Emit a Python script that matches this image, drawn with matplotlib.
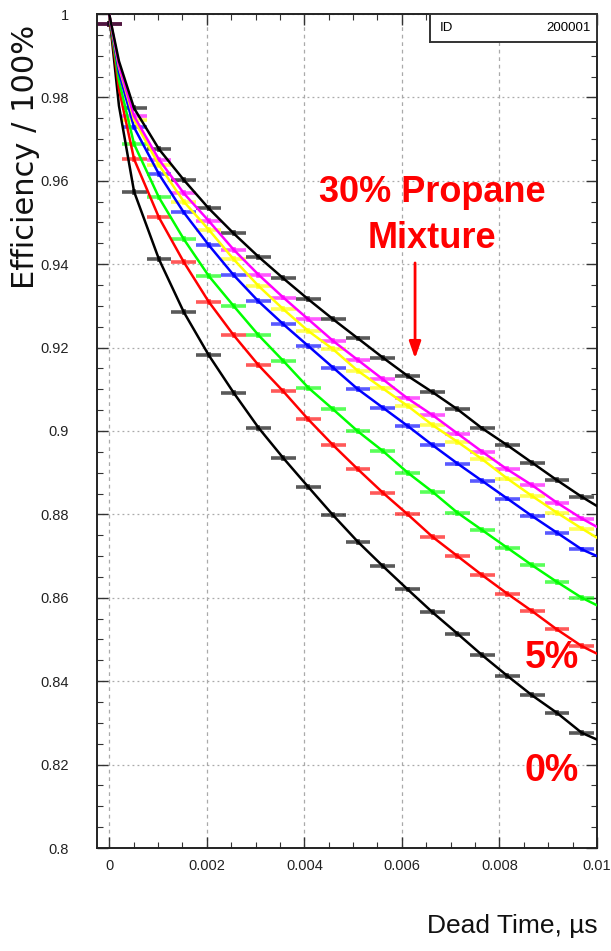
import numpy as np
import matplotlib.pyplot as plt
from matplotlib.ticker import MultipleLocator, FuncFormatter

# bins of dead time (us), one marker per bin
bin_width = 0.00051
dead_time = np.arange(20) * bin_width

# efficiency per bin for each propane fraction, low to high
eff_0 = [0.9976, 0.9574, 0.9412, 0.9285, 0.9182, 0.9092, 0.9008, 0.8935, 0.8866, 0.8798,
         0.8734, 0.8676, 0.8620, 0.8565, 0.8514, 0.8462, 0.8413, 0.8366, 0.8324, 0.8276]
eff_5 = [0.9975, 0.9652, 0.9512, 0.9405, 0.9310, 0.9230, 0.9158, 0.9095, 0.9028, 0.8966,
         0.8908, 0.8852, 0.8800, 0.8746, 0.8700, 0.8654, 0.8610, 0.8568, 0.8524, 0.8484]
eff_green = [0.9975, 0.9688, 0.9560, 0.9460, 0.9372, 0.9300, 0.9230, 0.9168, 0.9104, 0.9052,
             0.8999, 0.8952, 0.8900, 0.8854, 0.8804, 0.8762, 0.8720, 0.8678, 0.8638, 0.8600]
eff_blue = [0.9975, 0.9728, 0.9616, 0.9524, 0.9446, 0.9374, 0.9311, 0.9256, 0.9204, 0.9152,
            0.9100, 0.9056, 0.9012, 0.8966, 0.8922, 0.8880, 0.8838, 0.8796, 0.8756, 0.8716]
eff_yellow = [0.9975, 0.9746, 0.9638, 0.9550, 0.9483, 0.9412, 0.9348, 0.9292, 0.9240, 0.9196,
              0.9144, 0.9102, 0.9060, 0.9014, 0.8974, 0.8932, 0.8886, 0.8844, 0.8804, 0.8766]
eff_magenta = [0.9975, 0.9755, 0.9651, 0.9570, 0.9504, 0.9435, 0.9375, 0.9320, 0.9268, 0.9216,
               0.9170, 0.9124, 0.9078, 0.9038, 0.8994, 0.8950, 0.8908, 0.8870, 0.8828, 0.8790]
eff_30 = [0.9976, 0.9774, 0.9676, 0.9602, 0.9534, 0.9474, 0.9418, 0.9366, 0.9316, 0.9268,
          0.9222, 0.9176, 0.9132, 0.9093, 0.9052, 0.9006, 0.8966, 0.8924, 0.8882, 0.8842]

# fitted curves: 1 at zero dead time, a point on the steep start, and where they leave the frame
fit_start = 1.0
fit_mid_x = 0.0002
fit_mid = [0.9780, 0.9820, 0.9840, 0.9860, 0.9873, 0.9877, 0.9887]
fit_end_x = 0.01
fit_end = [0.8260, 0.8466, 0.8582, 0.8700, 0.8744, 0.8770, 0.8820]

series = [eff_0, eff_5, eff_green, eff_blue, eff_yellow, eff_magenta, eff_30]
colors = ['black', '#ff0000', '#00ff00', '#0000ff', '#ffff00', '#ff00ff', 'black']

fig = plt.figure(figsize=(6.11, 9.51), dpi=100)
ax = fig.add_axes([97/611, 103/951, 500/611, 834/951])

for vals, col, mid, end in zip(series, colors, fit_mid, fit_end):
    ax.errorbar(dead_time, vals, xerr=bin_width/2, yerr=0.0007, fmt='none',
                ecolor=col, elinewidth=2.6, alpha=0.65, capsize=0, zorder=2)
    lx = np.concatenate([[0.0, fit_mid_x], dead_time[1:], [fit_end_x]])
    ly = np.concatenate([[fit_start, mid], vals[1:], [end]])
    ax.plot(lx, ly, color=col, lw=1.8, zorder=3)

ax.set_xlim(-0.00025, 0.01)
ax.set_ylim(0.8, 1.0)

ax.xaxis.set_major_locator(MultipleLocator(0.002))
ax.xaxis.set_minor_locator(MultipleLocator(0.0005))
ax.yaxis.set_major_locator(MultipleLocator(0.02))
ax.yaxis.set_minor_locator(MultipleLocator(0.005))
fmt = FuncFormatter(lambda v, p: '%g' % round(v, 6))
ax.xaxis.set_major_formatter(fmt)
ax.yaxis.set_major_formatter(fmt)

ax.tick_params(which='both', direction='in', top=True, right=True, colors='#333333')
ax.tick_params(which='major', length=8, width=1)
ax.tick_params(which='minor', length=4, width=0.8)
ax.tick_params(axis='y', pad=20)
ax.tick_params(axis='x', pad=8)
for lab in ax.get_xticklabels() + ax.get_yticklabels():
    lab.set_family('Liberation Sans')
    lab.set_fontsize(10.5)
    lab.set_color('#222222')

ax.grid(True, which='major', axis='y', color='#aaaaaa', lw=0.9, ls=(0, (1.5, 2.5)))
ax.grid(True, which='major', axis='x', color='#aaaaaa', lw=0.9, ls=(0, (3, 3)))
for sp in ax.spines.values():
    sp.set_linewidth(1.4)
    sp.set_color('#222222')

# annotations
ax.text(0.00662, 0.9571, '30% Propane', color='red', fontsize=26, fontweight='bold',
        family='Liberation Sans', ha='center', va='center')
ax.text(0.00662, 0.9461, 'Mixture', color='red', fontsize=26, fontweight='bold',
        family='Liberation Sans', ha='center', va='center')
ax.annotate('', xy=(0.00627, 0.9174), xytext=(0.00627, 0.9403),
            arrowprops=dict(arrowstyle='-|>,head_length=1.0,head_width=0.35',
                            color='red', lw=2, shrinkA=0, shrinkB=0))
ax.text(0.00908, 0.8456, '5%', color='red', fontsize=27, fontweight='bold',
        family='Liberation Sans', ha='center', va='center')
ax.text(0.00908, 0.8185, '0%', color='red', fontsize=27, fontweight='bold',
        family='Liberation Sans', ha='center', va='center')

# axis titles
fig.text(26/611, 1 - 157/951, 'Efficiency / 100%', rotation=90, ha='center', va='center',
         fontsize=22, family='DejaVu Sans', color='#111111')
fig.text(598/611, 1 - 926/951, 'Dead Time, µs', ha='right', va='center',
         fontsize=19, family='Liberation Sans', color='#111111')

# ID box in the top right corner
box = fig.add_axes([430/611, 1 - 42/951, 167/611, 28/951])
box.set_xticks([])
box.set_yticks([])
for sp in box.spines.values():
    sp.set_linewidth(1.4)
    sp.set_color('#333333')
box.text(0.06, 0.5, 'ID', ha='left', va='center', fontsize=9.5, family='Liberation Sans')
box.text(0.96, 0.5, '200001', ha='right', va='center', fontsize=9.5, family='Liberation Sans')

fig.savefig('out.png', dpi=100)
